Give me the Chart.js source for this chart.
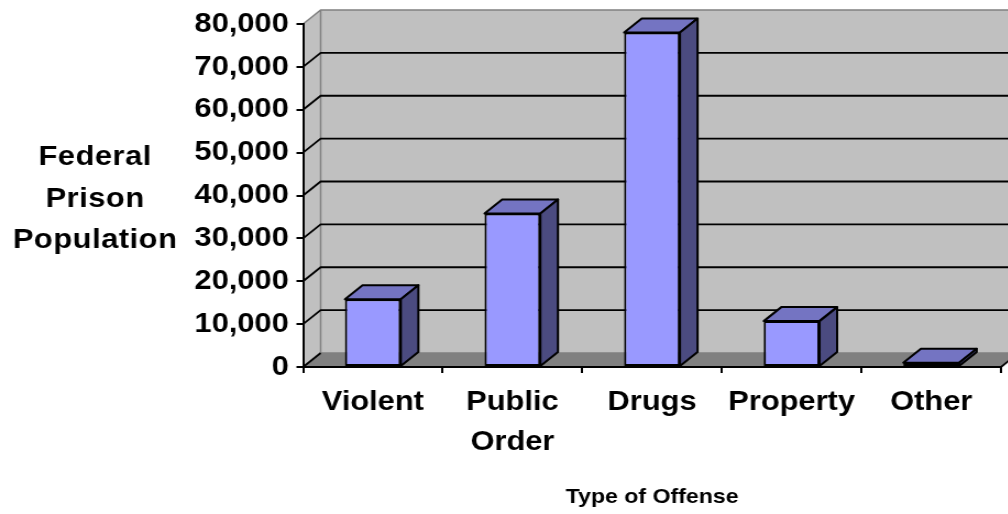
<!DOCTYPE html>
<html>
<head>
<meta charset="utf-8">
<script src="https://cdn.jsdelivr.net/npm/chart.js@4/dist/chart.umd.min.js"></script>
<style>
  html, body { margin: 0; padding: 0; background: #ffffff; overflow: hidden; }
  /* the chart is laid out narrow and widened horizontally, giving the broad lettering */
  #wrap { width: 917px; height: 514px; transform: scaleX(1.1); transform-origin: 0 0; }
  canvas { display: block; }
</style>
</head>
<body>
<div id="wrap"><canvas id="chart" width="917" height="514"></canvas></div>
<script>
// Federal prison population by type of offense
const categories = ['Violent', ['Public', 'Order'], 'Drugs', 'Property', 'Other'];
const prisoners = [15800, 35800, 78000, 10700, 1000];
const yAxisTitleLines = ['Federal', 'Prison', 'Population'];
const xAxisTitle = 'Type of Offense';
const yMax = 80000;
const yStep = 10000;

// depth of the 3-D box (pixels to the right / upward)
const DX = 16;
const DY = 14;
const FONT = '"Liberation Sans", Arial, sans-serif';

const box3d = {
  id: 'box3d',
  beforeDraw(chart) {
    const { ctx, chartArea: a, scales: { y } } = chart;
    ctx.save();

    // back wall
    ctx.fillStyle = '#c0c0c0';
    ctx.fillRect(a.left + DX, a.top - DY, a.right - a.left, a.bottom - a.top);

    // left side wall
    ctx.beginPath();
    ctx.moveTo(a.left, a.top);
    ctx.lineTo(a.left + DX, a.top - DY);
    ctx.lineTo(a.left + DX, a.bottom - DY);
    ctx.lineTo(a.left, a.bottom);
    ctx.closePath();
    ctx.fill();

    // floor
    ctx.fillStyle = '#808080';
    ctx.beginPath();
    ctx.moveTo(a.left, a.bottom);
    ctx.lineTo(a.right, a.bottom);
    ctx.lineTo(a.right + DX, a.bottom - DY);
    ctx.lineTo(a.left + DX, a.bottom - DY);
    ctx.closePath();
    ctx.fill();

    // wall outlines
    ctx.strokeStyle = '#808080';
    ctx.lineWidth = 1.5;
    ctx.beginPath();
    ctx.moveTo(a.left, a.top);
    ctx.lineTo(a.left + DX, a.top - DY);
    ctx.lineTo(a.right + DX + 20, a.top - DY);
    ctx.moveTo(a.left + DX, a.top - DY);
    ctx.lineTo(a.left + DX, a.bottom - DY);
    ctx.lineTo(a.right + DX, a.bottom - DY);
    ctx.stroke();

    // gridlines folded over side wall and back wall
    ctx.strokeStyle = '#000000';
    ctx.lineWidth = 1.8;
    y.ticks.forEach(t => {
      if (t.value >= yMax) return;
      const py = y.getPixelForValue(t.value);
      ctx.beginPath();
      ctx.moveTo(a.left, py);
      ctx.lineTo(a.left + DX, py - DY);
      if (t.value > 0) ctx.lineTo(a.right + DX, py - DY);
      ctx.stroke();
    });

    // right edge of the floor
    ctx.beginPath();
    ctx.moveTo(a.right, a.bottom);
    ctx.lineTo(a.right + DX, a.bottom - DY);
    ctx.stroke();

    // horizontal, stacked value-axis title
    ctx.fillStyle = '#000000';
    ctx.font = 'bold 28px ' + FONT;
    ctx.letterSpacing = '0.5px';
    ctx.textAlign = 'center';
    ctx.textBaseline = 'alphabetic';
    const baselines = [165, 206.5, 248];
    yAxisTitleLines.forEach((line, i) => ctx.fillText(line, 86.5, baselines[i]));
    ctx.restore();
  },
  afterDatasetsDraw(chart) {
    const { ctx } = chart;
    const meta = chart.getDatasetMeta(0);
    ctx.save();
    ctx.strokeStyle = '#000000';
    ctx.lineWidth = 2;
    ctx.lineJoin = 'round';
    meta.data.forEach(bar => {
      const { x, y, width, base } = bar.getProps(['x', 'y', 'width', 'base'], true);
      const l = x - width / 2, r = x + width / 2;
      // top face
      ctx.fillStyle = '#7474c2';
      ctx.beginPath();
      ctx.moveTo(l, y);
      ctx.lineTo(r, y);
      ctx.lineTo(r + DX, y - DY);
      ctx.lineTo(l + DX, y - DY);
      ctx.closePath();
      ctx.fill();
      ctx.stroke();
      // side face
      ctx.fillStyle = '#4b4b80';
      ctx.beginPath();
      ctx.moveTo(r, y);
      ctx.lineTo(r + DX, y - DY);
      ctx.lineTo(r + DX, base - DY);
      ctx.lineTo(r, base);
      ctx.closePath();
      ctx.fill();
      ctx.stroke();
    });
    ctx.restore();
  }
};

new Chart(document.getElementById('chart'), {
  type: 'bar',
  data: {
    labels: categories,
    datasets: [{
      data: prisoners,
      backgroundColor: '#9999ff',
      borderColor: '#000000',
      borderWidth: 2,
      borderSkipped: false,
      barPercentage: 0.4,
      categoryPercentage: 1.0
    }]
  },
  options: {
    responsive: false,
    devicePixelRatio: 1,
    animation: false,
    layout: { padding: { left: 0, right: 7, top: 24, bottom: 0 } },
    plugins: { legend: { display: false }, tooltip: { enabled: false } },
    scales: {
      x: {
        offset: true,
        afterFit(scale) { scale.height = 147; },
        grid: {
          display: true,
          offset: true,
          drawOnChartArea: false,
          drawTicks: true,
          tickLength: 6,
          color: '#000000',
          lineWidth: 2
        },
        border: { display: true, color: '#000000', width: 2 },
        ticks: {
          color: '#000000',
          padding: 10,
          maxRotation: 0,
          autoSkip: false,
          font: { family: FONT, size: 28, weight: 'bold', lineHeight: 1.4 }
        },
        title: {
          display: true,
          text: xAxisTitle,
          color: '#000000',
          font: { family: FONT, size: 21, weight: 'bold', lineHeight: 1.2 },
          padding: { top: 0, bottom: 4 }
        }
      },
      y: {
        min: 0,
        max: yMax,
        afterFit(scale) { scale.width = 275.5; },
        grid: {
          display: true,
          drawOnChartArea: false,
          drawTicks: true,
          tickLength: 6,
          color: '#000000',
          lineWidth: 2
        },
        border: { display: true, color: '#000000', width: 2 },
        ticks: {
          stepSize: yStep,
          color: '#000000',
          padding: 7,
          font: { family: FONT, size: 28, weight: 'bold' },
          callback: v => v.toLocaleString('en-US')
        }
      }
    }
  },
  plugins: [box3d]
});
</script>
</body>
</html>
